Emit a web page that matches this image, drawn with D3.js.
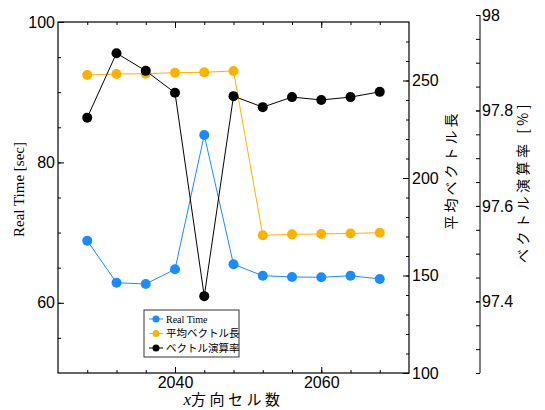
<!DOCTYPE html>
<html><head><meta charset="utf-8">
<script src="https://cdn.jsdelivr.net/npm/d3@7/dist/d3.min.js"></script>
<style>body{margin:0;background:#fff}svg{display:block}</style>
</head><body>
<svg id="c" width="545" height="410"></svg>
<script>
const cells = [2028,2032,2036,2040,2044,2048,2052,2056,2060,2064,2068];
const realTime = [68.85,62.86,62.68,64.77,83.9,65.48,63.86,63.68,63.63,63.86,63.4];
const avgVecLen = [252.8,253.3,253.5,254.0,254.2,254.9,170.6,171.1,171.3,171.6,171.9];
const vecRate = [97.785,97.92,97.883,97.837,97.411,97.83,97.807,97.828,97.822,97.828,97.839];
const xTicks = [2040,2060];
const leftTicks = [60,80,100];
const rightTicks = [100,150,200,250];
const rateTicks = [97.4,97.6,97.8,98];
const seriesNames = ["Real Time","平均ベクトル長","ベクトル演算率"];
const colors = ["#1a8cff","#ffb000","#000000"];

const svg = d3.select("#c");
const L=58, R=409, T=22, B=373, R2=480, T2=15;
const x = d3.scaleLinear().domain([2024,2072]).range([L,R]);
const yL = d3.scaleLinear().domain([50,100]).range([B,T]);
const yR = d3.scaleLinear().domain([100,280]).range([B,T]);
const yR2 = d3.scaleLinear().domain([97.25,98]).range([B,T2]);

const numFont = "'Liberation Sans', Arial, sans-serif";
const jpFont = "'Noto Sans CJK JP', sans-serif";

function styleAxis(g){
  g.select(".domain").remove();
  g.selectAll("line").attr("stroke","#000").attr("stroke-width",1);
  g.selectAll("text").attr("font-family",numFont).attr("font-size",16).attr("fill","#000");
}
function rangeTicks(a,b,s){const r=[];for(let v=a;v<=b+1e-9;v+=s)r.push(+v.toFixed(4));return r;}

// bottom
svg.append("g").attr("transform",`translate(0,${B})`)
  .call(d3.axisBottom(x).tickValues(rangeTicks(2028,2068,4)).tickSize(-3).tickFormat(""))
  .call(styleAxis);
svg.append("g").attr("transform",`translate(0,${B})`)
  .call(d3.axisBottom(x).tickValues(xTicks).tickSize(-6).tickPadding(4).tickFormat(d3.format("d")))
  .call(styleAxis);
// top
svg.append("g").attr("transform",`translate(0,${T})`)
  .call(d3.axisTop(x).tickValues(rangeTicks(2028,2068,4)).tickSize(-3).tickFormat(""))
  .call(styleAxis);
svg.append("g").attr("transform",`translate(0,${T})`)
  .call(d3.axisTop(x).tickValues(xTicks).tickSize(-6).tickFormat(""))
  .call(styleAxis);
// left
svg.append("g").attr("transform",`translate(${L},0)`)
  .call(d3.axisLeft(yL).tickValues(rangeTicks(55,95,5)).tickSize(-3).tickFormat(""))
  .call(styleAxis);
svg.append("g").attr("transform",`translate(${L},0)`)
  .call(d3.axisLeft(yL).tickValues(leftTicks).tickSize(-6).tickPadding(3).tickFormat(d3.format("d")))
  .call(styleAxis);
// right 1
svg.append("g").attr("transform",`translate(${R},0)`)
  .call(d3.axisRight(yR).tickValues(rangeTicks(110,270,10)).tickSize(-3).tickFormat(""))
  .call(styleAxis);
svg.append("g").attr("transform",`translate(${R},0)`)
  .call(d3.axisRight(yR).tickValues(rightTicks).tickSize(-6).tickPadding(3).tickFormat(d3.format("d")))
  .call(styleAxis);
// right 2
svg.append("g").attr("transform",`translate(${R2},0)`)
  .call(d3.axisRight(yR2).tickValues(rangeTicks(97.25,97.95,0.05)).tickSize(-4).tickFormat(""))
  .call(styleAxis);
svg.append("g").attr("transform",`translate(${R2},0)`)
  .call(d3.axisRight(yR2).tickValues(rateTicks).tickSize(-4).tickPadding(2).tickFormat(d=>d===98?"98":d3.format(".1f")(d)))
  .call(styleAxis);
svg.append("line").attr("x1",R2).attr("x2",R2).attr("y1",T2).attr("y2",B).attr("stroke","#000");

// frame
svg.append("rect").attr("x",L).attr("y",T).attr("width",R-L).attr("height",B-T)
  .attr("fill","none").attr("stroke","#000").attr("stroke-width",1.2);

// series
const sets = [[realTime,yL],[avgVecLen,yR],[vecRate,yR2]];
sets.forEach(([vals,ys],i)=>{
  const pts = cells.map((c,j)=>[x(c),ys(vals[j])]);
  svg.append("path").attr("d",d3.line()(pts)).attr("fill","none").attr("stroke",colors[i]).attr("stroke-width",1);
  svg.append("g").selectAll("circle").data(pts).join("circle")
    .attr("cx",d=>d[0]).attr("cy",d=>d[1]).attr("r",5).attr("fill",colors[i]);
});

// axis labels
svg.append("text").attr("transform",`translate(24,${(T+B)/2-8}) rotate(-90)`)
  .attr("text-anchor","middle").attr("font-family","'Liberation Serif', 'Times New Roman', serif")
  .attr("font-size",15).text("Real Time [sec]");
svg.append("text").attr("transform",`translate(456,170) rotate(-90)`)
  .attr("text-anchor","middle").attr("font-family",jpFont).attr("font-size",14).attr("letter-spacing",3).text("平均ベクトル長");
svg.append("text").attr("transform",`translate(528,182) rotate(-90)`)
  .attr("text-anchor","middle").attr("font-family",jpFont).attr("font-size",14).attr("letter-spacing",3.5).text("ベクトル演算率 [%]");
const xl = svg.append("text").attr("x",(L+R)/2).attr("y",405).attr("text-anchor","middle")
  .attr("font-family",jpFont).attr("font-size",15).attr("letter-spacing",3.5);
xl.append("tspan").attr("font-family","'Liberation Serif', serif").attr("font-style","italic").attr("font-size",17).attr("letter-spacing",0).text("x");
xl.append("tspan").text("方向セル数");

// legend
const lg = svg.append("g").attr("transform","translate(144,310)");
lg.append("rect").attr("width",95).attr("height",47).attr("fill","#fff").attr("stroke","#333").attr("stroke-width",1);
seriesNames.forEach((n,i)=>{
  const yy = 9 + i*14.5;
  lg.append("line").attr("x1",5).attr("x2",19).attr("y1",yy).attr("y2",yy).attr("stroke",colors[i]);
  lg.append("circle").attr("cx",12).attr("cy",yy).attr("r",3.5).attr("fill",colors[i]);
  lg.append("text").attr("x",22).attr("y",yy+3.5).attr("font-size",i===0?10:10.5)
    .attr("font-family",i===0?"'Liberation Serif', serif":jpFont).text(n);
});
</script>
</body></html>
